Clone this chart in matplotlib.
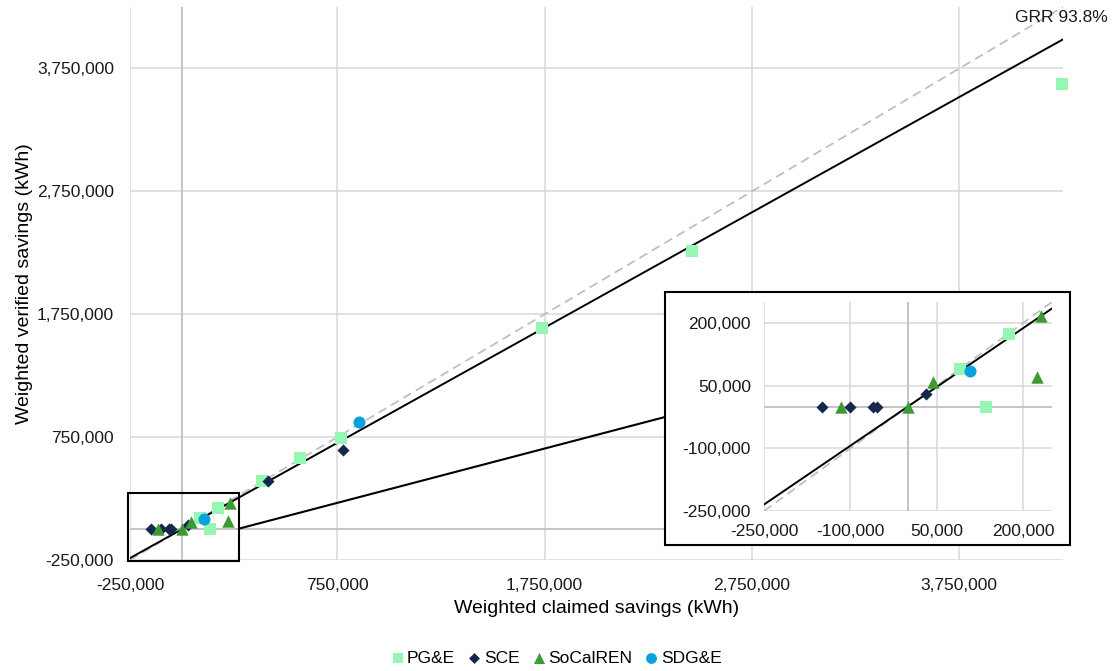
import matplotlib
matplotlib.use('Agg')
import matplotlib.pyplot as plt
from matplotlib.patches import Rectangle, ConnectionPatch
from matplotlib.ticker import FuncFormatter

plt.rcParams['font.family'] = ['Liberation Sans', 'DejaVu Sans']

# weighted claimed (x) vs verified (y) savings, kWh
pge_x = [4245000, 2462000, 1736000, 769000, 572000, 385000, 175000, 136000, 90000]
pge_y = [3620000, 2262000, 1636000, 742000, 579000, 392000, 173000, 0, 90000]
sce_x = [779000, 418000, -150000, -100000, -61000, -53000, 32000]
sce_y = [644000, 390000, 0, 0, 0, 0, 31000]
socal_x = [231000, 224000, 44000, 0, -117000]
socal_y = [216000, 70000, 59000, 0, 0]
sdge_x = [856000, 107000]
sdge_y = [872000, 86000]
grr = 0.938

main_lim = (-250000, 4250000)
main_ticks = [-250000, 750000, 1750000, 2750000, 3750000]
zoom_lim = (-250000, 250000)
zoom_ticks = [-250000, -100000, 50000, 200000]

series = [
    ('PG&E', pge_x, pge_y, 's', '#96F7B4', 70),
    ('SCE', sce_x, sce_y, 'D', '#14284B', 38),
    ('SoCalREN', socal_x, socal_y, '^', '#3E9A35', 80),
    ('SDG&E', sdge_x, sdge_y, 'o', '#0AA2DD', 75),
]

fmt = FuncFormatter(lambda v, p: f'{v:,.0f}')
W, H = 1113, 671
fig = plt.figure(figsize=(W / 100, H / 100), dpi=100)


def style(a, lim, ticks, fs, xpad, ypad, clip):
    a.set_xlim(lim)
    a.set_ylim(lim)
    a.set_xticks(ticks)
    a.set_yticks(ticks)
    a.xaxis.set_major_formatter(fmt)
    a.yaxis.set_major_formatter(fmt)
    a.grid(color='#D9D9D9', lw=1.1)
    a.set_axisbelow(True)
    a.axhline(0, color='#BFBFBF', lw=1.3, zorder=1)
    a.axvline(0, color='#BFBFBF', lw=1.3, zorder=1)
    for s in a.spines.values():
        s.set_visible(False)
    a.tick_params(length=0, labelsize=fs, colors='#1a1a1a')
    a.tick_params(axis='x', pad=xpad)
    a.tick_params(axis='y', pad=ypad)
    xs = list(lim)
    a.plot(xs, xs, color='#BFBFBF', lw=1.3, dashes=(5, 3), zorder=2)
    a.plot(xs, [grr * v for v in xs], color='black', lw=1.4, zorder=2)
    handles = []
    for name, x, y, m, c, s in series:
        handles.append(a.scatter(x, y, marker=m, s=s, color=c, label=name,
                                 zorder=3, linewidths=0, clip_on=clip))
    return handles


ax = fig.add_axes([130 / W, 1 - 560 / H, 933 / W, 553 / H])
handles = style(ax, main_lim, main_ticks, 12.5, 13, 11.5, False)
ax.set_xlabel('Weighted claimed savings (kWh)', fontsize=14, labelpad=5)
ax.set_ylabel('Weighted verified savings (kWh)', fontsize=14, labelpad=3)

# zoom box on the main chart
box = Rectangle((-260000, -260000), 535000, 555000, fill=False,
                edgecolor='black', lw=1.5, clip_on=False, zorder=4)
ax.add_patch(box)

# inset frame and inset axes
frame = Rectangle((665 / W, 1 - 545 / H), 405 / W, 253 / H, transform=fig.transFigure,
                  facecolor='white', edgecolor='black', lw=1.5, zorder=2)
fig.add_artist(frame)
con = ConnectionPatch(xyA=(275000, 5000), coordsA=ax.transData,
                      xyB=(665 / W, 1 - 417 / H), coordsB=fig.transFigure,
                      color='black', lw=1.5, zorder=1.5)
fig.add_artist(con)

iax = fig.add_axes([764 / W, 1 - 511 / H, 288 / W, 209 / H])
iax.set_zorder(3)
iax.patch.set_alpha(0)
style(iax, zoom_lim, zoom_ticks, 12.5, 9, 9.5, True)

fig.text(1108 / W, 1 - 17 / H, 'GRR 93.8%', ha='right', va='center', fontsize=12.5,
         color='#1a1a1a')

fig.legend(handles, [h.get_label() for h in handles], loc='center',
           bbox_to_anchor=(0.5, 1 - 658 / H), ncol=4, frameon=False,
           fontsize=12.5, handlelength=0.7, handletextpad=0.2, columnspacing=0.75,
           markerscale=0.9)

fig.savefig('out.png', dpi=100)
